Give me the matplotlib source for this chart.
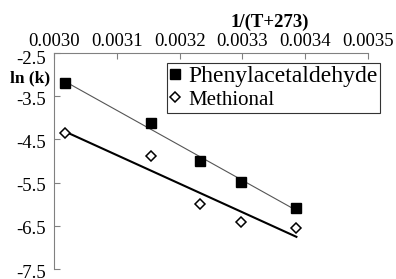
import numpy as np
import matplotlib.pyplot as plt
from matplotlib.transforms import ScaledTranslation

plt.rcParams['font.family'] = ['Liberation Serif', 'DejaVu Serif']
plt.rcParams['axes.unicode_minus'] = False

# 1/(T+273) values and ln(k)
inv_temp = [0.003017, 0.003154, 0.003232, 0.003298, 0.003386]
ln_k_phenyl = [-3.19, -4.11, -5.01, -5.49, -6.09]
ln_k_methional = [-4.36, -4.89, -5.99, -6.41, -6.55]

x_ticks = [0.0030, 0.0031, 0.0032, 0.0033, 0.0034, 0.0035]
y_ticks = [-2.5, -3.5, -4.5, -5.5, -6.5, -7.5]

fig = plt.figure(figsize=(3.96, 2.79), dpi=100)
ax = fig.add_axes([54/396, 1-269/279, (368-54)/396, (269-53)/279])

x = np.array(inv_temp)

# trend lines
b1, b0 = np.polyfit(x, ln_k_phenyl, 1)
ax.plot(x[[0, -1]], b0 + b1*x[[0, -1]], color='#555555', lw=0.8, zorder=1)
b1, b0 = np.polyfit(x, ln_k_methional, 1)
ax.plot(x[[0, -1]], b0 + b1*x[[0, -1]], color='black', lw=1.5, zorder=1)

ax.plot(x, ln_k_phenyl, 's', color='black', markersize=7.5, label='Phenylacetaldehyde', zorder=3)
ax.plot(x, ln_k_methional, 'D', mfc='white', mec='black', mew=1.1, markersize=5.5,
        label='Methional', zorder=3)

ax.set_xlim(0.0030, 0.0035)
ax.set_ylim(-7.5, -2.5)
ax.set_xticks(x_ticks)
ax.set_xticklabels(['%.4f' % v for v in x_ticks])
ax.set_yticks(y_ticks)
ax.set_yticklabels(['%.1f' % v for v in y_ticks])
ax.xaxis.tick_top()
ax.tick_params(axis='both', direction='in', length=4, width=0.8, color='#808080', labelsize=13.5)
ax.tick_params(axis='x', pad=2)
ax.tick_params(axis='y', pad=6)

# y labels sit a little lower than their ticks, like in the original
for i, lab in enumerate(ax.get_yticklabels()):
    dy = 4 if i == 0 else 2
    lab.set_transform(lab.get_transform() + ScaledTranslation(0, -dy/100, fig.dpi_scale_trans))

for s in ['right', 'bottom']:
    ax.spines[s].set_visible(False)
for s in ['left', 'top']:
    ax.spines[s].set_color('#808080')
    ax.spines[s].set_linewidth(0.8)

fig.text(30/396, 1-78/279, 'ln (k)', ha='center', va='center', fontsize=12.5, fontweight='bold')
fig.text(270/396, 1-22/279, '1/(T+273)', ha='center', va='center', fontsize=13.5, fontweight='bold')

leg = ax.legend(loc='upper left', bbox_to_anchor=(167/396, 1-63/279), bbox_transform=fig.transFigure,
                borderaxespad=0, fancybox=False, edgecolor='#333333', framealpha=1,
                handlelength=0.5, handletextpad=0.3, borderpad=0.1, labelspacing=0.08,
                fontsize=17)
leg.get_frame().set_linewidth(0.8)
leg.get_texts()[1].set_fontsize(15)

fig.savefig('out.png', dpi=100)
